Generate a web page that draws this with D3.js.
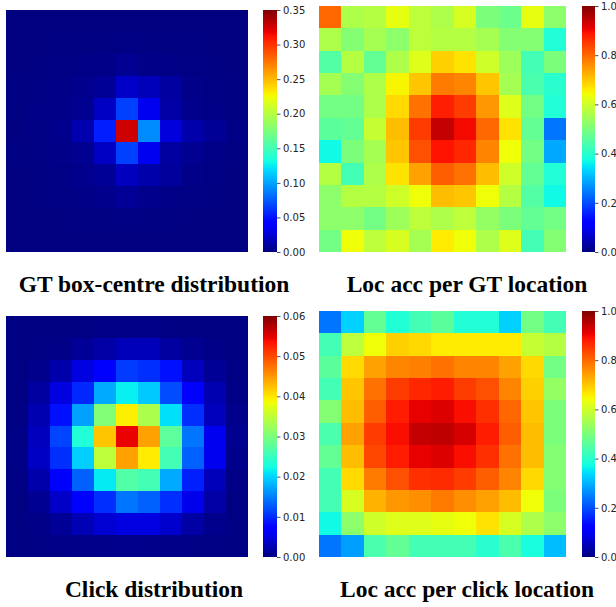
<!DOCTYPE html>
<html>
<head>
<meta charset="utf-8">
<script src="https://cdn.jsdelivr.net/npm/d3@7"></script>
<style>
  html, body { margin: 0; padding: 0; background: #fff; }
  svg { display: block; }
</style>
</head>
<body>
<svg id="chart" width="616" height="607"></svg>
<script>
// 11x11 grids, row 0 at top
const gtCentreDist = [
  [0.0002,0.0003,0.0003,0.0004,0.0005,0.0006,0.0005,0.0004,0.0003,0.0003,0.0002],
  [0.0003,0.0005,0.0008,0.0010,0.0012,0.0015,0.0012,0.0010,0.0008,0.0005,0.0003],
  [0.0005,0.0010,0.0015,0.0023,0.0030,0.0055,0.0025,0.0023,0.0015,0.0010,0.0005],
  [0.0008,0.0015,0.0023,0.0038,0.0068,0.0219,0.0174,0.0098,0.0030,0.0015,0.0008],
  [0.0010,0.0020,0.0030,0.0053,0.0204,0.0656,0.0340,0.0113,0.0038,0.0020,0.0010],
  [0.0005,0.0015,0.0038,0.0144,0.0540,0.3260,0.0918,0.0280,0.0128,0.0068,0.0020],
  [0.0008,0.0015,0.0030,0.0053,0.0204,0.0656,0.0340,0.0098,0.0053,0.0020,0.0010],
  [0.0005,0.0010,0.0023,0.0038,0.0068,0.0189,0.0128,0.0083,0.0030,0.0015,0.0005],
  [0.0003,0.0008,0.0015,0.0023,0.0038,0.0068,0.0038,0.0023,0.0015,0.0008,0.0003],
  [0.0002,0.0003,0.0005,0.0008,0.0010,0.0015,0.0010,0.0008,0.0005,0.0003,0.0002],
  [0.0002,0.0002,0.0002,0.0002,0.0002,0.0003,0.0002,0.0002,0.0002,0.0002,0.0002]
];

const locAccPerGt = [
  [0.80,0.56,0.57,0.63,0.58,0.56,0.61,0.50,0.48,0.63,0.52],
  [0.56,0.51,0.55,0.52,0.58,0.57,0.57,0.55,0.51,0.51,0.39],
  [0.45,0.57,0.47,0.56,0.62,0.69,0.67,0.60,0.54,0.43,0.50],
  [0.55,0.51,0.56,0.65,0.70,0.78,0.77,0.70,0.55,0.44,0.40],
  [0.49,0.49,0.56,0.68,0.79,0.878,0.846,0.75,0.62,0.49,0.39],
  [0.46,0.47,0.59,0.71,0.846,0.94,0.90,0.80,0.67,0.47,0.24],
  [0.37,0.50,0.55,0.70,0.826,0.89,0.87,0.77,0.64,0.49,0.29],
  [0.57,0.43,0.56,0.67,0.74,0.81,0.79,0.71,0.60,0.47,0.39],
  [0.52,0.57,0.57,0.60,0.64,0.71,0.70,0.64,0.57,0.45,0.37],
  [0.52,0.52,0.49,0.54,0.58,0.56,0.58,0.53,0.50,0.47,0.49],
  [0.49,0.64,0.58,0.61,0.55,0.66,0.64,0.56,0.62,0.43,0.51]
];

const clickDist = [
  [0.0002,0.0002,0.0002,0.0003,0.0004,0.0004,0.0004,0.0003,0.0002,0.0002,0.0002],
  [0.0002,0.0003,0.0004,0.0012,0.0019,0.0030,0.0030,0.0017,0.0009,0.0004,0.0002],
  [0.0002,0.0007,0.0022,0.0050,0.0072,0.0110,0.0102,0.0084,0.0032,0.0012,0.0003],
  [0.0002,0.0017,0.0050,0.0098,0.0175,0.0216,0.0193,0.0120,0.0069,0.0025,0.0004],
  [0.0003,0.0025,0.0084,0.0169,0.0305,0.0394,0.0334,0.0207,0.0102,0.0032,0.0007],
  [0.0004,0.0032,0.0115,0.0233,0.0420,0.0545,0.0444,0.0277,0.0144,0.0058,0.0009],
  [0.0004,0.0035,0.0102,0.0196,0.0348,0.0444,0.0396,0.0258,0.0132,0.0058,0.0007],
  [0.0003,0.0022,0.0075,0.0132,0.0213,0.0268,0.0258,0.0175,0.0093,0.0030,0.0004],
  [0.0002,0.0009,0.0038,0.0069,0.0102,0.0144,0.0132,0.0102,0.0056,0.0019,0.0003],
  [0.0002,0.0004,0.0012,0.0027,0.0043,0.0050,0.0050,0.0040,0.0019,0.0007,0.0002],
  [0.0002,0.0003,0.0004,0.0005,0.0006,0.0007,0.0006,0.0005,0.0004,0.0003,0.0002]
];

const locAccPerClick = [
  [0.24,0.33,0.47,0.39,0.43,0.46,0.39,0.39,0.33,0.49,0.43],
  [0.43,0.58,0.64,0.69,0.68,0.66,0.66,0.66,0.66,0.59,0.57],
  [0.46,0.68,0.74,0.77,0.775,0.79,0.77,0.77,0.74,0.68,0.49],
  [0.43,0.70,0.79,0.846,0.87,0.88,0.846,0.826,0.77,0.69,0.53],
  [0.51,0.71,0.81,0.88,0.91,0.92,0.895,0.86,0.80,0.70,0.50],
  [0.44,0.74,0.846,0.895,0.94,0.945,0.925,0.88,0.81,0.71,0.50],
  [0.47,0.71,0.835,0.88,0.91,0.92,0.895,0.86,0.79,0.71,0.51],
  [0.43,0.68,0.78,0.826,0.86,0.865,0.846,0.81,0.77,0.68,0.51],
  [0.43,0.61,0.72,0.75,0.76,0.78,0.76,0.74,0.71,0.64,0.50],
  [0.37,0.52,0.60,0.62,0.62,0.63,0.64,0.67,0.61,0.56,0.52],
  [0.24,0.28,0.44,0.47,0.43,0.43,0.43,0.40,0.44,0.38,0.31]
];

const titles = [
  "GT box-centre distribution",
  "Loc acc per GT location",
  "Click distribution",
  "Loc acc per click location"
];

const ticksDistGt = [0.00,0.05,0.10,0.15,0.20,0.25,0.30,0.35];
const ticksDistClick = [0.00,0.01,0.02,0.03,0.04,0.05,0.06];
const ticksAcc = [0.0,0.2,0.4,0.6,0.8,1.0];

// Jet colormap (piecewise linear segments)
const jetSeg = {
  r: [[0,0],[0.35,0],[0.66,1],[0.89,1],[1,0.5]],
  g: [[0,0],[0.125,0],[0.375,1],[0.64,1],[0.91,0],[1,0]],
  b: [[0,0.5],[0.11,1],[0.34,1],[0.65,0],[1,0]]
};
function seg(pts, t) {
  t = Math.max(0, Math.min(1, t));
  for (let i = 1; i < pts.length; i++) {
    if (t <= pts[i][0]) {
      const [x0, y0] = pts[i-1], [x1, y1] = pts[i];
      return y0 + (y1 - y0) * (t - x0) / (x1 - x0);
    }
  }
  return pts[pts.length-1][1];
}
function jet(t) {
  return d3.rgb(255*seg(jetSeg.r,t), 255*seg(jetSeg.g,t), 255*seg(jetSeg.b,t)).toString();
}

const svg = d3.select("#chart");
const defs = svg.append("defs");

const panels = [
  { data: gtCentreDist, vmax: 0.35, ticks: ticksDistGt, fmt: ".2f",
    hm: [6, 10, 248, 252], cb: [263, 277], title: titles[0], tx: 154, ty: 292 },
  { data: locAccPerGt, vmax: 1.0, ticks: ticksAcc, fmt: ".1f",
    hm: [319, 6, 566, 252], cb: [582, 595], title: titles[1], tx: 467, ty: 292 },
  { data: clickDist, vmax: 0.06, ticks: ticksDistClick, fmt: ".2f",
    hm: [6, 316, 248, 557], cb: [263, 277], title: titles[2], tx: 154, ty: 597 },
  { data: locAccPerClick, vmax: 1.0, ticks: ticksAcc, fmt: ".1f",
    hm: [319, 311, 566, 557], cb: [582, 595], title: titles[3], tx: 467, ty: 597 }
];

// one shared gradient for the colour bars
const grad = defs.append("linearGradient").attr("id", "jetGrad")
  .attr("x1", 0).attr("y1", 1).attr("x2", 0).attr("y2", 0);
d3.range(0, 1.0001, 0.01).forEach(t => {
  grad.append("stop").attr("offset", t).attr("stop-color", jet(t));
});

panels.forEach(p => {
  const [x0, y0, x1, y1] = p.hm;
  const n = p.data.length;
  const idx = d3.range(n);
  const xs = d3.scaleBand().domain(idx).range([x0, x1]);
  const ys = d3.scaleBand().domain(idx).range([y0, y1]);
  const color = d3.scaleLinear().domain([0, p.vmax]).range([0, 1]).clamp(true);

  const cells = [];
  p.data.forEach((row, r) => row.forEach((v, c) => cells.push({ r, c, v })));

  // snap cell edges to whole pixels so neighbouring cells meet without seams
  const edgeX = c => Math.round(c < n ? xs(c) : x1);
  const edgeY = r => Math.round(r < n ? ys(r) : y1);

  svg.append("g").attr("shape-rendering", "crispEdges")
    .selectAll("rect").data(cells).join("rect")
    .attr("x", d => edgeX(d.c))
    .attr("y", d => edgeY(d.r))
    .attr("width", d => edgeX(d.c + 1) - edgeX(d.c))
    .attr("height", d => edgeY(d.r + 1) - edgeY(d.r))
    .attr("fill", d => jet(color(d.v)));

  // colour bar
  const cbScale = d3.scaleLinear().domain([0, p.vmax]).range([y1, y0]);
  svg.append("rect")
    .attr("x", p.cb[0]).attr("y", y0)
    .attr("width", p.cb[1] - p.cb[0]).attr("height", y1 - y0)
    .attr("fill", "url(#jetGrad)");

  const axis = d3.axisRight(cbScale)
    .tickValues(p.ticks)
    .tickFormat(d3.format(p.fmt))
    .tickSize(3.5)
    .tickPadding(2.5);
  const g = svg.append("g").attr("transform", `translate(${p.cb[1]},0)`).call(axis);
  g.select(".domain").remove();
  g.selectAll(".tick line").attr("stroke", "#222").attr("stroke-width", 0.8);
  g.selectAll(".tick text")
    .attr("fill", "#222")
    .style("font-family", "'DejaVu Sans', sans-serif")
    .style("font-size", "10px");

  // panel title
  svg.append("text")
    .attr("x", p.tx).attr("y", p.ty)
    .attr("text-anchor", "middle")
    .style("font-family", "'Liberation Serif', 'Times New Roman', serif")
    .style("font-weight", "bold")
    .style("font-size", "23.5px")
    .attr("fill", "#000")
    .text(p.title);
});
</script>
</body>
</html>
